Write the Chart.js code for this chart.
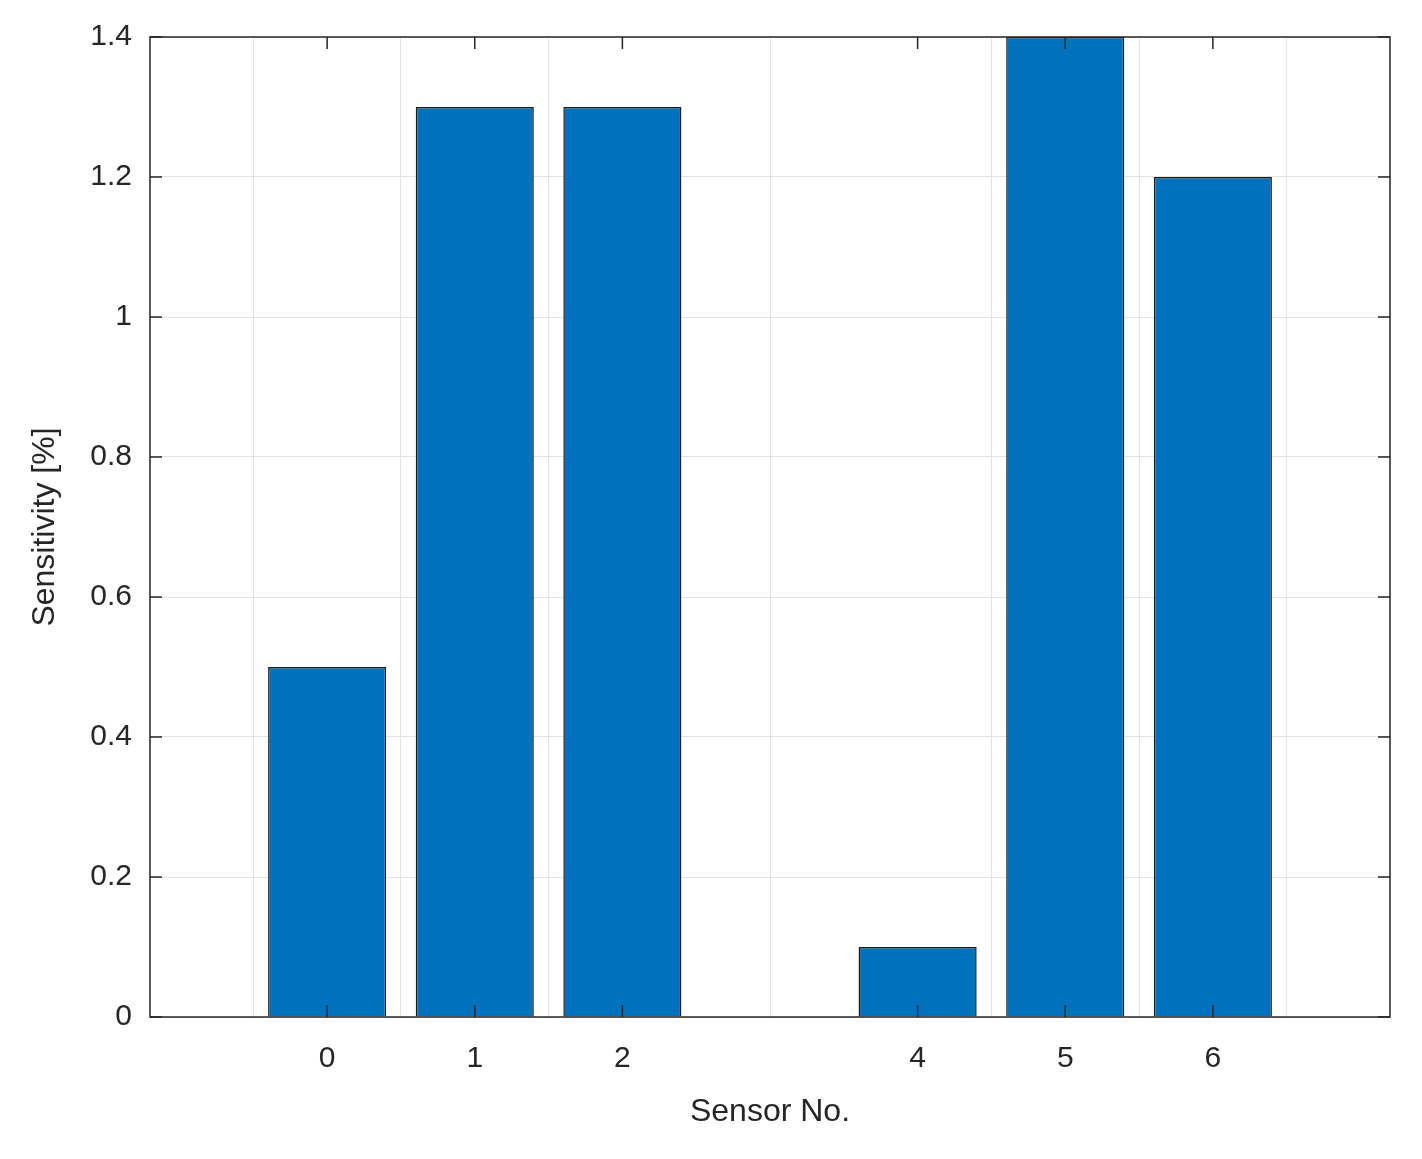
<!DOCTYPE html>
<html><head><style>html,body{margin:0;padding:0;background:#fff}</style>
<script src="https://cdn.jsdelivr.net/npm/chart.js@4"></script></head>
<body><div style="width:1422px;height:1159px"><canvas id="c"></canvas></div>
<script>
const sensors = [0, 1, 2, 4, 5, 6];
const sensitivity = [0.5, 1.3, 1.3, 0.1, 1.4, 1.2];
const yTicks = [0, 0.2, 0.4, 0.6, 0.8, 1, 1.2, 1.4];
const font = {family: 'Arial, "Liberation Sans", sans-serif', size: 30};
const frame = {
  id: 'frame',
  afterDraw(ch) {
    const {ctx, chartArea: a, scales: {x, y}} = ch;
    ctx.save();
    ctx.strokeStyle = '#262626'; ctx.lineWidth = 1.5;
    ctx.beginPath();
    const L = 12;
    sensors.forEach(v => { const px = x.getPixelForValue(v);
      ctx.moveTo(px, a.bottom); ctx.lineTo(px, a.bottom - L);
      ctx.moveTo(px, a.top); ctx.lineTo(px, a.top + L); });
    yTicks.forEach(v => { const py = y.getPixelForValue(v);
      ctx.moveTo(a.left, py); ctx.lineTo(a.left + L, py);
      ctx.moveTo(a.right, py); ctx.lineTo(a.right - L, py); });
    ctx.stroke();
    ctx.strokeRect(a.left, a.top, a.right - a.left, a.bottom - a.top);
    ctx.restore();
  }
};
new Chart(document.getElementById('c'), {
  type: 'bar',
  data: { datasets: [{ data: sensors.map((s, i) => ({x: s, y: sensitivity[i]})),
    backgroundColor: '#0072BD', borderColor: '#1a1a1a', borderWidth: 1.5,
    categoryPercentage: 1, barPercentage: 0.8 }] },
  options: {
    responsive: true, maintainAspectRatio: false, animation: false,
    layout: {padding: {left: 0, right: 32, top: 37, bottom: 0}},
    plugins: {legend: {display: false}, tooltip: {enabled: false}},
    scales: {
      x: { type: 'linear', min: -1.2, max: 7.2, offset: false,
        afterBuildTicks: s => { s.ticks = sensors.map(v => ({value: v})); },
        afterFit: s => { s.height = 142; },
        grid: {color: '#e3e3e3', drawTicks: false}, border: {display: false},
        ticks: {font, color: '#262626', padding: 24, maxRotation: 0},
        title: {display: true, text: 'Sensor No.', font: {...font, size: 32}, color: '#262626', padding: {top: 0, bottom: 28}} },
      y: { min: 0, max: 1.4,
        afterBuildTicks: s => { s.ticks = yTicks.map(v => ({value: v})); },
        afterFit: s => { s.width = 150; },
        grid: {color: '#e3e3e3', drawTicks: false}, border: {display: false},
        ticks: {font, color: '#262626', padding: 18, callback: v => String(+v.toFixed(1))},
        title: {display: true, text: 'Sensitivity [%]', font: {...font, size: 32}, color: '#262626', padding: {top: 26, bottom: 0}} }
    }
  },
  plugins: [frame]
});
</script></body></html>
